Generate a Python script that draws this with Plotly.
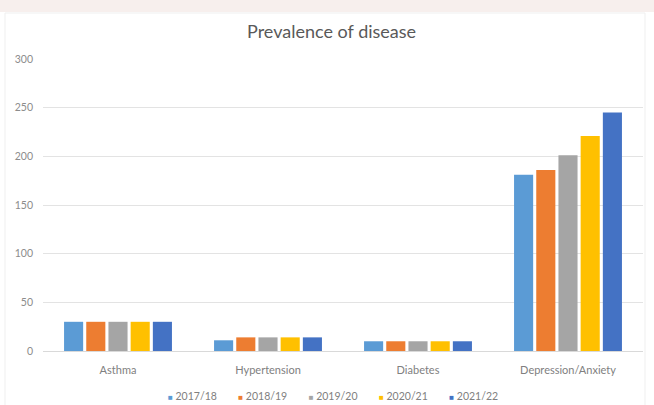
import plotly.graph_objects as go

# Disease categories and yearly prevalence counts
categories = ["Asthma", "Hypertension", "Diabetes", "Depression/Anxiety"]
years = ["2017/18", "2018/19", "2019/20", "2020/21", "2021/22"]
values_2017_18 = [30, 11, 10, 181]
values_2018_19 = [30, 14, 10, 186]
values_2019_20 = [30, 14, 10, 201]
values_2020_21 = [30, 14, 10, 221]
values_2021_22 = [30, 14, 10, 245]
series_values = [values_2017_18, values_2018_19, values_2019_20, values_2020_21, values_2021_22]
colors = ["#5B9BD5", "#ED7D31", "#A5A5A5", "#FFC000", "#4472C4"]
y_ticks = [0, 50, 100, 150, 200, 250, 300]

font_family = "Lato, 'Open Sans', sans-serif"
label_color = "#808080"

fig = go.Figure()
for name, vals, col in zip(years, series_values, colors):
    fig.add_trace(go.Bar(name=name, x=categories, y=vals, marker_color=col,
                         marker_line_width=0, showlegend=False))

# compact legend line: small coloured square right before each year label
legend_text = "&nbsp;" * 8
legend_text = legend_text.join(
    f"<span style='color:{c};font-size:8px'>■</span>&nbsp;{y}" for y, c in zip(years, colors)
)

fig.update_layout(
    width=654, height=405,
    margin=dict(l=43, r=11, t=59, b=54),
    paper_bgcolor="#ffffff",
    plot_bgcolor="#ffffff",
    barmode="group",
    bargap=0.26,
    bargroupgap=0.14,
    title=dict(text="Prevalence of disease", x=0.507, xanchor="center",
               y=1 - 32 / 405, yanchor="middle",
               font=dict(family=font_family, size=18, color="#595959")),
    font=dict(family=font_family, size=10, color=label_color),
    xaxis=dict(showgrid=False, showline=True, linecolor="#d9d9d9", linewidth=1,
               ticks="", ticklabelstandoff=9,
               tickfont=dict(size=11, color=label_color)),
    yaxis=dict(range=[0, 300], tickvals=y_ticks, showgrid=True,
               gridcolor="#e3e3e3", gridwidth=1, zeroline=False,
               ticks="", ticklabelstandoff=9,
               tickfont=dict(size=10.5, color="#8c8c8c")),
    annotations=[
        dict(text=legend_text, xref="paper", yref="paper",
             x=0.483, y=-45 / 292, xanchor="center", yanchor="middle",
             showarrow=False, font=dict(family=font_family, size=10.5, color=label_color)),
    ],
    shapes=[
        # faint tinted strip along the top edge
        dict(type="rect", xref="paper", yref="paper", x0=-0.2, x1=1.2,
             y0=1 + 47 / 292, y1=1 + 70 / 292, fillcolor="#f7efed",
             line_width=0, layer="below"),
        # faint chart-area frame
        dict(type="rect", xref="paper", yref="paper",
             x0=-38 / 600, x1=1 + 2 / 600, y0=-60 / 292, y1=1 + 46 / 292,
             line=dict(color="#efefef", width=1), layer="below"),
    ],
)

fig.write_html("out.html")
